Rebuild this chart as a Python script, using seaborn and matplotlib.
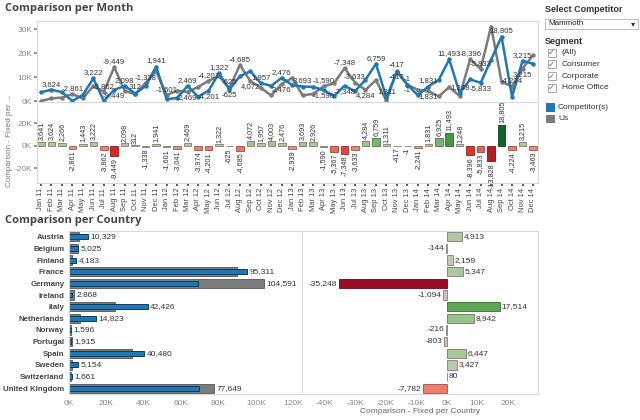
import matplotlib
matplotlib.use('Agg')
import pandas as pd
import seaborn as sns
import matplotlib.pyplot as plt
from matplotlib.colors import LinearSegmentedColormap
from matplotlib.patches import Rectangle

# ---- data ----
month_labels = [m + ' ' + y for y in ['11', '12', '13', '14']
                for m in ['Jan', 'Feb', 'Mar', 'Apr', 'May', 'Jun',
                          'Jul', 'Aug', 'Sep', 'Oct', 'Nov', 'Dec']]

us_month = [200, 1300, 1600, 3100, 1300, 6400, 4100, 14300, 4400, 3000, 7800, 12600,
            2600, 4500, 4000, 6000, 8600, 10500, 5600, 15200, 8500, 5700, 2500, 7400,
            9800, 2500, 3200, 6300, 7600, 13900, 7900, 4800, 8900, 300, 12800, 7000,
            4850, 4400, 2100, 6000, 2250, 17600, 13600, 31200, 8200, 6200, 13700, 19200]

competitor_month = [3841, 4924, 3866, 239, 2743, 9622, 238, 4851, 6498, 3312, 6462, 14541,
                    999, 1459, 6469, 2026, 4399, 11822, 4975, 10515, 12572, 7657, 6503, 9876,
                    6861, 6193, 6126, 4710, 2233, 6552, 4267, 9084, 15659, 1611, 12383, 6999,
                    2609, 6231, 9025, 17493, 3498, 9204, 7767, 17372, 27005, 1976, 16915, 15737]

diff_month = [3641, 3624, 2266, -2861, 1443, 3222, -3862, -9449, 2098, 312, -1338, 1941,
              -1601, -3041, 2469, -3974, -4201, 1322, -625, -4685, 4072, 1957, 4003, 2476,
              -2939, 3693, 2926, -1590, -5367, -7348, -3633, 4284, 6759, 1311, -417, -1,
              -2241, 1831, 6925, 11493, 1248, -8396, -5833, -13828, 18805, -4224, 3215, -3463]

countries = ['Austria', 'Belgium', 'Finland', 'France', 'Germany', 'Ireland', 'Italy',
             'Netherlands', 'Norway', 'Portugal', 'Spain', 'Sweden', 'Switzerland',
             'United Kingdom']
us_country = [5416, 5025, 2024, 89964, 104591, 2868, 24912, 5881, 1596, 1915, 34033,
              1727, 1581, 77649]
competitor_country = [10329, 4881, 4183, 95311, 69343, 1774, 42426, 14823, 1380, 1112,
                      40480, 5154, 1661, 69867]
diff_country = [4913, -144, 2159, 5347, -35248, -1094, 17514, 8942, -216, -803, 6447,
                3427, 80, -7782]

segments = ['(All)', 'Consumer', 'Corporate', 'Home Office']

BLUE = '#1f77b4'
GRAY = '#7b7b7b'
W, H = 640, 420


def fx(x):
    return x / W


def fy(y):
    return 1 - y / H


def box(x0, y0, x1, y1):
    return [fx(x0), fy(y1), (x1 - x0) / W, (y1 - y0) / H]


diverge = LinearSegmentedColormap.from_list(
    'red_green', [(0.0, '#9b0b23'), (0.25, '#d42a25'), (0.4, '#f2826f'),
                  (0.5, '#cbc6c2'), (0.6, '#a8c797'), (0.75, '#5aa553'),
                  (1.0, '#11632a')])


def diff_colors(values):
    top = max(abs(v) for v in values)
    return [diverge(0.5 + 0.5 * v / top) for v in values]


def darken_edges(ax, f=0.65, lw=0.6):
    for p in ax.patches:
        fc = p.get_facecolor()
        p.set_edgecolor(tuple(c * f for c in fc[:3]))
        p.set_linewidth(lw)


def k_label(v):
    return f'{v / 1000:.0f}K'


def light_spines(ax, color='#d9d9d9'):
    for s in ax.spines.values():
        s.set_color(color)
        s.set_linewidth(0.8)


sns.set_theme(style='white')
plt.rcParams['font.family'] = ['Liberation Sans', 'DejaVu Sans']

fig = plt.figure(figsize=(6.4, 4.2), dpi=100)

# ---- Comparison per Month: lines ----
ax_line = fig.add_axes(box(37, 21, 538, 102))
n = len(month_labels)
line_df = pd.DataFrame({
    'idx': list(range(n)) * 2,
    'value': us_month + competitor_month,
    'series': ['Us'] * n + ['Competitor(s)'] * n,
})
sns.lineplot(data=line_df, x='idx', y='value', hue='series',
             hue_order=['Us', 'Competitor(s)'],
             palette={'Us': GRAY, 'Competitor(s)': BLUE},
             marker='o', markersize=3.2, markeredgewidth=0, linewidth=1.8,
             legend=False, ax=ax_line)
ax_line.set_xlim(-0.38, 47.48)
ax_line.set_ylim(-210, 33500)
ax_line.set_yticks([0, 10000, 20000, 30000])
ax_line.set_yticklabels([k_label(v) for v in [0, 10000, 20000, 30000]])
ax_line.set_xticks([])
ax_line.set_xlabel('')
ax_line.set_ylabel('')
ax_line.tick_params(axis='y', labelsize=6, colors='#888', length=2, pad=1.5, left=True)
light_spines(ax_line)

# data labels with simple overlap avoidance
placed = []


def try_label(ax, x, y, text, above):
    px, py = ax.transData.transform((x, y))
    w = len(text) * 3.2
    h = 7.0
    if above:
        b = (px - w / 2, py + 2, px + w / 2, py + 2 + h)
    else:
        b = (px - w / 2, py - 2 - h, px + w / 2, py - 2)
    ab = ax.get_window_extent()
    if b[1] < ab.y0 + 1 or b[3] > ab.y1 or b[0] < ab.x0 or b[2] > ab.x1 + 4:
        return
    for q in placed:
        if b[0] < q[2] and b[2] > q[0] and b[1] < q[3] and b[3] > q[1]:
            return
    placed.append(b)
    ax.annotate(text, (x, y), xytext=(0, 1.5 if above else -1.5),
                textcoords='offset points', ha='center',
                va='bottom' if above else 'top', fontsize=5.6, color='#333')


for i in range(n):
    try_label(ax_line, i, max(us_month[i], competitor_month[i]), f'{diff_month[i]:,}', True)
for i in range(n):
    try_label(ax_line, i, min(us_month[i], competitor_month[i]), f'{diff_month[i]:,}', False)

# ---- Comparison per Month: difference bars ----
ax_diff = fig.add_axes(box(37, 104, 538, 183))
sns.barplot(x=month_labels, y=diff_month, hue=month_labels,
            palette=dict(zip(month_labels, diff_colors(diff_month))),
            legend=False, width=0.72, saturation=1, ax=ax_diff)
darken_edges(ax_diff)
ax_diff.set_xlim(-0.38, 47.48)
ax_diff.set_ylim(-33300, 37200)
ax_diff.set_yticks([-20000, 0, 20000])
ax_diff.set_yticklabels([k_label(v) for v in [-20000, 0, 20000]])
ax_diff.set_xlabel('')
ax_diff.set_ylabel('')
ax_diff.tick_params(axis='y', labelsize=6, colors='#888', length=2, pad=1.5, left=True)
ax_diff.tick_params(axis='x', labelsize=5.4, colors='#444', length=2, pad=1.5,
                    labelrotation=90, bottom=True)
light_spines(ax_diff)
ax_diff.spines['top'].set_visible(False)
for i, v in enumerate(diff_month):
    ax_diff.annotate(f'{v:,}', (i, v), xytext=(0, 1.2 if v >= 0 else -1.2),
                     textcoords='offset points', rotation=90, ha='center',
                     va='bottom' if v >= 0 else 'top', fontsize=5.2, color='#333')
fig.text(fx(10), fy(141), 'Comparison - Fixed per ...', rotation=90,
         ha='center', va='center', fontsize=5.8, color='#777')

# ---- Comparison per Country: values ----
ax_cty = fig.add_axes(box(68.5, 231, 302, 394))
sns.barplot(y=countries, x=us_country, color=GRAY, width=0.8, saturation=1,
            edgecolor='#555', linewidth=0.6, ax=ax_cty, orient='h')
sns.barplot(y=countries, x=competitor_country, color=BLUE, width=0.42, saturation=1,
            edgecolor='#0b3c66', linewidth=0.7, ax=ax_cty, orient='h')
ax_cty.set_xlim(0, 124700)
ax_cty.set_xticks(range(0, 120001, 20000))
ax_cty.set_xticklabels([k_label(v) for v in range(0, 120001, 20000)])
ax_cty.set_xlabel('')
ax_cty.set_ylabel('')
ax_cty.tick_params(axis='x', labelsize=6, colors='#888', length=0, pad=4)
ax_cty.tick_params(axis='y', labelsize=5.7, colors='#444', length=0, pad=3)
for t in ax_cty.get_yticklabels():
    t.set_fontweight('bold')
light_spines(ax_cty)
ax_cty.spines['right'].set_visible(False)
for i in range(len(countries)):
    top_val = max(us_country[i], competitor_country[i])
    ax_cty.text(top_val + 1200, i, f'{top_val:,}', va='center', ha='left',
                fontsize=6, color='#333')

# ---- Comparison per Country: difference ----
ax_cdiff = fig.add_axes(box(302, 231, 538, 394))
sns.barplot(y=countries, x=diff_country, hue=countries,
            palette=dict(zip(countries, diff_colors(diff_country))),
            legend=False, width=0.8, saturation=1, ax=ax_cdiff, orient='h')
darken_edges(ax_cdiff)
ax_cdiff.set_xlim(-47500, 30000)
ax_cdiff.set_xticks(range(-40000, 20001, 10000))
ax_cdiff.set_xticklabels([k_label(v) for v in range(-40000, 20001, 10000)])
ax_cdiff.set_yticks([])
ax_cdiff.set_ylabel('')
ax_cdiff.set_xlabel('Comparison - Fixed per Country', fontsize=6, color='#666', labelpad=1)
ax_cdiff.tick_params(axis='x', labelsize=6, colors='#888', length=0, pad=4)
light_spines(ax_cdiff)
for i, v in enumerate(diff_country):
    ax_cdiff.text(v + (600 if v >= 0 else -600), i, f'{v:,}', va='center',
                  ha='left' if v >= 0 else 'right', fontsize=6, color='#333')

# ---- titles ----
fig.text(fx(5), fy(8), 'Comparison per Month', fontsize=8, fontweight='bold',
         color='#444', va='center', family=['Open Sans', 'DejaVu Sans'])
fig.text(fx(5), fy(221), 'Comparison per Country', fontsize=8, fontweight='bold',
         color='#444', va='center', family=['Open Sans', 'DejaVu Sans'])

# ---- side panel: filters and legend ----
fig.text(fx(545), fy(10), 'Select Competitor', fontsize=6.5, fontweight='bold',
         color='#333', va='center')
fig.patches.append(Rectangle((fx(545), fy(28.5)), 93 / W, 9.5 / H,
                             transform=fig.transFigure, facecolor='white',
                             edgecolor='#bbbbbb', linewidth=0.7))
fig.text(fx(548), fy(23.5), 'Mammoth', fontsize=5.8, color='#222', va='center')
fig.text(fx(633), fy(23.5), '\u25be', fontsize=6, color='#333', va='center', ha='center',
         family=['DejaVu Sans'])
fig.text(fx(545), fy(41.5), 'Segment', fontsize=6.5, fontweight='bold', color='#333',
         va='center')
for k, seg in enumerate(segments):
    yc = 52.7 + 11.7 * k
    fig.patches.append(Rectangle((fx(547.5), fy(yc + 4)), 8 / W, 8 / H,
                                 transform=fig.transFigure, facecolor='white',
                                 edgecolor='#999999', linewidth=0.6))
    fig.text(fx(551.5), fy(yc), '\u2713', fontsize=6, color='#3a6fb0', va='center',
             ha='center', family=['DejaVu Sans'])
    fig.text(fx(561.5), fy(yc), seg, fontsize=6, color='#333', va='center')

for k, (lab, col) in enumerate([('Competitor(s)', BLUE), ('Us', GRAY)]):
    yc = 107.5 + 11.5 * k
    fig.patches.append(Rectangle((fx(546), fy(yc + 4)), 8.5 / W, 8 / H,
                                 transform=fig.transFigure, facecolor=col,
                                 edgecolor='none'))
    fig.text(fx(558), fy(yc), lab, fontsize=6, color='#333', va='center')

fig.savefig('out.png', dpi=100)
